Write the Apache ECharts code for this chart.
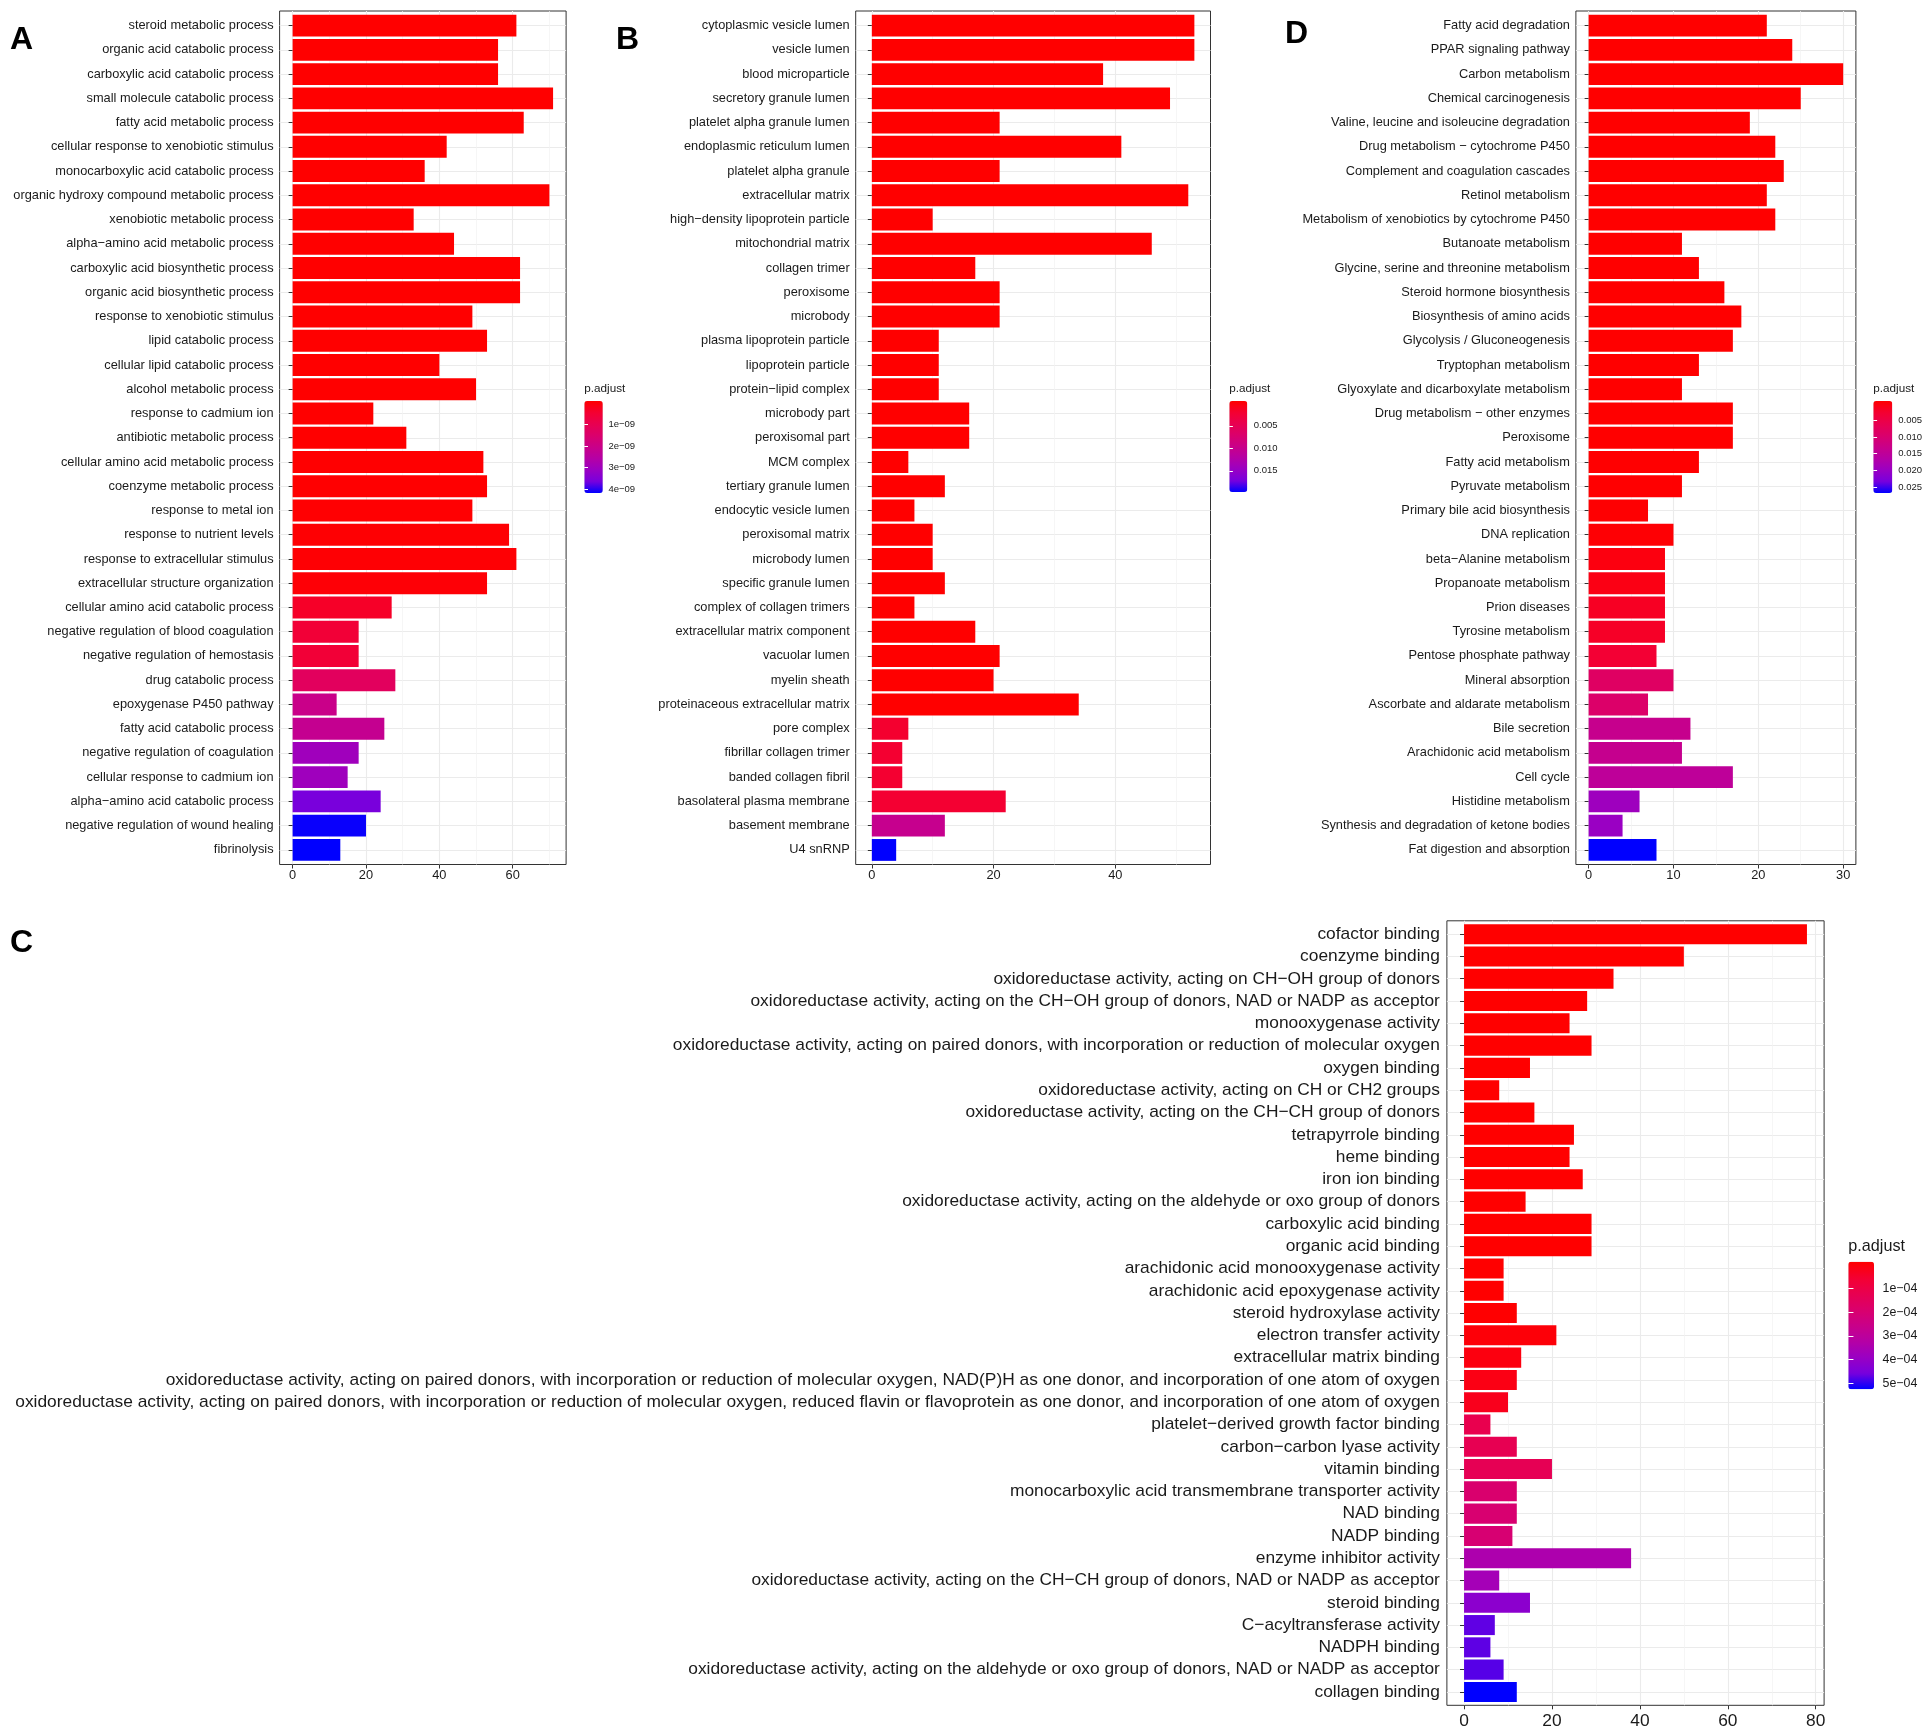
<!DOCTYPE html>
<html><head><meta charset="utf-8">
<script src="https://cdn.jsdelivr.net/npm/echarts@6/dist/echarts.min.js"></script>
<style>html,body{margin:0;padding:0;background:#fff}#c{width:1928px;height:1736px}</style>
</head><body><div id="c"></div>
<script>
// ---------------- DATA ----------------
const aCategories = ["steroid metabolic process","organic acid catabolic process","carboxylic acid catabolic process","small molecule catabolic process","fatty acid metabolic process","cellular response to xenobiotic stimulus","monocarboxylic acid catabolic process","organic hydroxy compound metabolic process","xenobiotic metabolic process","alpha−amino acid metabolic process","carboxylic acid biosynthetic process","organic acid biosynthetic process","response to xenobiotic stimulus","lipid catabolic process","cellular lipid catabolic process","alcohol metabolic process","response to cadmium ion","antibiotic metabolic process","cellular amino acid metabolic process","coenzyme metabolic process","response to metal ion","response to nutrient levels","response to extracellular stimulus","extracellular structure organization","cellular amino acid catabolic process","negative regulation of blood coagulation","negative regulation of hemostasis","drug catabolic process","epoxygenase P450 pathway","fatty acid catabolic process","negative regulation of coagulation","cellular response to cadmium ion","alpha−amino acid catabolic process","negative regulation of wound healing","fibrinolysis"];
const aCounts = [61,56,56,71,63,42,36,70,33,44,62,62,49,53,40,50,22,31,52,53,49,59,61,53,27,18,18,28,12,25,18,15,24,20,13];
const aPadj = [1.3e-22,4.1e-21,4.1e-21,2.8e-20,6.5e-19,3.2e-18,1.5e-17,2.9e-17,5.6e-16,1.1e-15,3.7e-15,3.7e-15,8.2e-15,2.4e-14,9.1e-14,2.6e-13,7.4e-13,1.9e-12,5.3e-12,8.8e-12,1.6e-11,2.9e-11,4.4e-11,6.1e-11,4.2e-10,6.1e-10,6.1e-10,1.25e-9,2.04e-9,2.16e-9,2.94e-9,2.96e-9,3.55e-9,4.04e-9,4.08e-9];
const aXTicks = [0,20,40,60];
const aLegendTicks = [1e-9,2e-9,3e-9,4e-9];
const aLegendLabels = ["1e−09","2e−09","3e−09","4e−09"];

const bCategories = ["cytoplasmic vesicle lumen","vesicle lumen","blood microparticle","secretory granule lumen","platelet alpha granule lumen","endoplasmic reticulum lumen","platelet alpha granule","extracellular matrix","high−density lipoprotein particle","mitochondrial matrix","collagen trimer","peroxisome","microbody","plasma lipoprotein particle","lipoprotein particle","protein−lipid complex","microbody part","peroxisomal part","MCM complex","tertiary granule lumen","endocytic vesicle lumen","peroxisomal matrix","microbody lumen","specific granule lumen","complex of collagen trimers","extracellular matrix component","vacuolar lumen","myelin sheath","proteinaceous extracellular matrix","pore complex","fibrillar collagen trimer","banded collagen fibril","basolateral plasma membrane","basement membrane","U4 snRNP"];
const bCounts = [53,53,38,49,21,41,21,52,10,46,17,21,21,11,11,11,16,16,6,12,7,10,10,12,7,17,21,20,34,6,5,5,22,12,4];
const bPadj = [2.1e-22,2.1e-22,5.8e-19,1.4e-18,3.3e-16,6.0e-16,4.1e-15,7.7e-15,2.2e-13,5.1e-13,1.3e-12,2.7e-12,2.7e-12,6.4e-12,6.4e-12,9.9e-12,2.3e-11,2.3e-11,5.2e-11,8.7e-11,1.6e-10,3.1e-10,3.1e-10,5.5e-10,9.8e-10,2.2e-9,4.0e-9,6.3e-9,1.1e-8,0.0023,0.0024,0.0024,0.0025,0.0100,0.0192];
const bXTicks = [0,20,40];
const bLegendTicks = [0.005,0.010,0.015];
const bLegendLabels = ["0.005","0.010","0.015"];

const dCategories = ["Fatty acid degradation","PPAR signaling pathway","Carbon metabolism","Chemical carcinogenesis","Valine, leucine and isoleucine degradation","Drug metabolism − cytochrome P450","Complement and coagulation cascades","Retinol metabolism","Metabolism of xenobiotics by cytochrome P450","Butanoate metabolism","Glycine, serine and threonine metabolism","Steroid hormone biosynthesis","Biosynthesis of amino acids","Glycolysis / Gluconeogenesis","Tryptophan metabolism","Glyoxylate and dicarboxylate metabolism","Drug metabolism − other enzymes","Peroxisome","Fatty acid metabolism","Pyruvate metabolism","Primary bile acid biosynthesis","DNA replication","beta−Alanine metabolism","Propanoate metabolism","Prion diseases","Tyrosine metabolism","Pentose phosphate pathway","Mineral absorption","Ascorbate and aldarate metabolism","Bile secretion","Arachidonic acid metabolism","Cell cycle","Histidine metabolism","Synthesis and degradation of ketone bodies","Fat digestion and absorption"];
const dCounts = [21,24,30,25,19,22,23,21,22,11,13,16,18,17,13,11,17,17,13,11,7,10,9,9,9,9,8,10,7,12,11,17,6,4,8];
const dPadj = [3.2e-12,5.5e-11,9.0e-11,1.2e-9,4.3e-9,8.1e-9,1.5e-8,3.3e-8,6.0e-8,2.4e-7,5.2e-7,9.9e-7,1.8e-6,3.5e-6,6.1e-6,1.2e-5,2.0e-5,2.6e-5,4.8e-5,9.5e-5,1.5e-4,2.4e-4,0.0010,0.0013,0.0023,0.0026,0.0036,0.0086,0.0094,0.0135,0.0136,0.0148,0.0190,0.0195,0.0260];
const dXTicks = [0,10,20,30];
const dLegendTicks = [0.005,0.010,0.015,0.020,0.025];
const dLegendLabels = ["0.005","0.010","0.015","0.020","0.025"];

const cCategories = ["cofactor binding","coenzyme binding","oxidoreductase activity, acting on CH−OH group of donors","oxidoreductase activity, acting on the CH−OH group of donors, NAD or NADP as acceptor","monooxygenase activity","oxidoreductase activity, acting on paired donors, with incorporation or reduction of molecular oxygen","oxygen binding","oxidoreductase activity, acting on CH or CH2 groups","oxidoreductase activity, acting on the CH−CH group of donors","tetrapyrrole binding","heme binding","iron ion binding","oxidoreductase activity, acting on the aldehyde or oxo group of donors","carboxylic acid binding","organic acid binding","arachidonic acid monooxygenase activity","arachidonic acid epoxygenase activity","steroid hydroxylase activity","electron transfer activity","extracellular matrix binding","oxidoreductase activity, acting on paired donors, with incorporation or reduction of molecular oxygen, NAD(P)H as one donor, and incorporation of one atom of oxygen","oxidoreductase activity, acting on paired donors, with incorporation or reduction of molecular oxygen, reduced flavin or flavoprotein as one donor, and incorporation of one atom of oxygen","platelet−derived growth factor binding","carbon−carbon lyase activity","vitamin binding","monocarboxylic acid transmembrane transporter activity","NAD binding","NADP binding","enzyme inhibitor activity","oxidoreductase activity, acting on the CH−CH group of donors, NAD or NADP as acceptor","steroid binding","C−acyltransferase activity","NADPH binding","oxidoreductase activity, acting on the aldehyde or oxo group of donors, NAD or NADP as acceptor","collagen binding"];
const cCounts = [78,50,34,28,24,29,15,8,16,25,24,27,14,29,29,9,9,12,21,13,12,10,6,12,20,12,12,11,38,8,15,7,6,9,12];
const cPadj = [1.1e-28,3.5e-17,2.2e-14,1.9e-11,3.6e-11,4.4e-11,2.8e-9,6.3e-9,1.2e-8,2.6e-8,4.1e-8,6.8e-8,1.5e-7,2.3e-7,2.3e-7,6.0e-7,6.0e-7,1.4e-6,1.0e-5,2.0e-5,2.6e-5,3.6e-5,1.23e-4,1.33e-4,1.38e-4,1.95e-4,2.0e-4,2.05e-4,3.38e-4,3.58e-4,4.10e-4,4.61e-4,4.62e-4,4.66e-4,5.12e-4];
const cXTicks = [0,20,40,60,80];
const cLegendTicks = [1e-4,2e-4,3e-4,4e-4,5e-4];
const cLegendLabels = ["1e−04","2e−04","3e−04","4e−04","5e−04"];

// ---------------- STYLE / LAYOUT ----------------
const FONT = '"Liberation Sans", Arial, Helvetica, sans-serif';
const TXT = '#1a1a1a';
// red -> blue gradient (CIELAB-interpolated stops, as ggplot's gradient)
const STOPS = ['#FF0000','#F40031','#E80050','#DA006C','#C90089','#B500A5','#9A00C3','#7800DD','#0000FF'];

const panels = [
  {letter:'A', letterPos:[10,24], cats:aCategories, counts:aCounts, padj:aPadj, xTicks:aXTicks, lt:aLegendTicks, ll:aLegendLabels,
   frame:{left:279.6, top:11, width:286.5, height:853.5}, fs:12.8, yMargin:6, xMargin:4, yPadTop:2.4,
   leg:{x:584.3, y:401, w:18.5, h:92, titleTop:382.5, titleFs:11.7, labelFs:9.5, gap:5.6}},
  {letter:'B', letterPos:[616,24.5], cats:bCategories, counts:bCounts, padj:bPadj, xTicks:bXTicks, lt:bLegendTicks, ll:bLegendLabels,
   frame:{left:855.7, top:11, width:354.8, height:853.5}, fs:12.8, yMargin:6, xMargin:4, yPadTop:2.4,
   leg:{x:1229.3, y:401, w:18, h:91, titleTop:382.5, titleFs:11.7, labelFs:9.5, gap:6.5}},
  {letter:'D', letterPos:[1285,18.5], cats:dCategories, counts:dCounts, padj:dPadj, xTicks:dXTicks, lt:dLegendTicks, ll:dLegendLabels,
   frame:{left:1575.9, top:11, width:280.0, height:853.5}, fs:12.8, yMargin:6, xMargin:4, yPadTop:2.4,
   leg:{x:1873.3, y:401, w:19, h:92, titleTop:382.5, titleFs:11.7, labelFs:9.5, gap:6}},
  {letter:'C', letterPos:[10,927.5], cats:cCategories, counts:cCounts, padj:cPadj, xTicks:cXTicks, lt:cLegendTicks, ll:cLegendLabels,
   frame:{left:1446.9, top:920.8, width:377.2, height:784.5}, fs:17.35, yMargin:7, xMargin:7, yPadTop:5,
   leg:{x:1848.3, y:1261.7, w:25.7, h:127.6, titleTop:1239, titleFs:16.2, labelFs:12.4, gap:8.5}}
];

const option = {
  backgroundColor:'#fff', animation:false,
  textStyle:{fontFamily:FONT},
  title:[], grid:[], xAxis:[], yAxis:[], series:[], visualMap:[]
};

panels.forEach(p => {
  const n = p.cats.length, f = p.frame, L = p.leg;
  const unit = f.height / (n + 0.2);
  const pad = unit * 0.1;
  const xMaxData = Math.max(...p.counts);
  const xmin = -0.05 * xMaxData, xmax = 1.05 * xMaxData;
  const step = p.xTicks[1] - p.xTicks[0];
  const minor = p.xTicks.map(t => t + step / 2).filter(v => v < xmax);
  const vmin = Math.min(...p.padj), vmax = Math.max(...p.padj);

  const gMain = option.grid.length;
  option.grid.push({left:f.left, top:f.top + pad, width:f.width, height:unit * n, show:false});
  option.grid.push({left:f.left, top:f.top, width:f.width, height:f.height, show:true, borderColor:'#333', borderWidth:1, backgroundColor:'rgba(0,0,0,0)'});
  option.grid.push({left:L.x, top:L.y + 0.025 * L.h, width:L.w, height:0.95 * L.h, show:false});
  const gFrame = gMain + 1, gLeg = gMain + 2;

  // main axes
  const xMain = option.xAxis.length;
  option.xAxis.push({gridIndex:gMain, type:'value', min:xmin, max:xmax, position:'bottom', offset:pad,
    axisLine:{show:false},
    axisTick:{show:true, length:4, customValues:p.xTicks, lineStyle:{color:'#333', width:1}},
    axisLabel:{customValues:p.xTicks, fontSize:p.fs, color:TXT, margin:p.xMargin, fontFamily:FONT},
    splitLine:{show:false}});
  const yMain = option.yAxis.length;
  option.yAxis.push({gridIndex:gMain, type:'category', data:p.cats, inverse:true,
    axisLine:{show:false},
    axisTick:{show:true, alignWithLabel:true, interval:0, length:4, lineStyle:{color:'#333', width:1}},
    axisLabel:{interval:0, fontSize:p.fs, color:TXT, margin:p.yMargin, fontFamily:FONT, padding:[p.yPadTop,0,0,0]},
    splitLine:{show:false}});

  // frame grid: panel grid lines
  option.xAxis.push({gridIndex:gFrame, type:'value', min:xmin, max:xmax, position:'bottom',
    axisLine:{show:false}, axisTick:{show:false, customValues:p.xTicks}, axisLabel:{show:false},
    splitLine:{show:true, lineStyle:{color:'#EBEBEB', width:1.1}}});
  option.xAxis.push({gridIndex:gFrame, type:'value', min:xmin, max:xmax, position:'top',
    axisLine:{show:false}, axisTick:{show:false, customValues:minor}, axisLabel:{show:false},
    splitLine:{show:true, lineStyle:{color:'#F2F2F2', width:0.7}}});
  option.yAxis.push({gridIndex:gFrame, type:'value', min:-0.6, max:n - 0.4, inverse:true,
    axisLine:{show:false}, axisTick:{show:false, customValues:p.cats.map((_, i) => i)}, axisLabel:{show:false},
    splitLine:{show:true, lineStyle:{color:'#EBEBEB', width:1.1}}});

  // legend axes (tick labels of the colour bar)
  const fmt = v => {
    let best = 0, bd = Infinity;
    p.lt.forEach((t, i) => { const d = Math.abs(t - v); if (d < bd) { bd = d; best = i; } });
    return p.ll[best];
  };
  option.xAxis.push({gridIndex:gLeg, type:'value', show:false});
  option.yAxis.push({gridIndex:gLeg, type:'value', min:vmin, max:vmax, inverse:true, position:'right', z:10,
    axisLine:{show:false},
    axisTick:{show:true, inside:true, length:L.w / 5, customValues:p.lt, lineStyle:{color:'#fff', width:1}},
    axisLabel:{show:true, customValues:p.lt, formatter:fmt, fontSize:L.labelFs, color:TXT, margin:L.gap, fontFamily:FONT},
    splitLine:{show:false}});
  option.yAxis.push({gridIndex:gLeg, type:'value', min:vmin, max:vmax, inverse:true, position:'left', z:10,
    axisLine:{show:false},
    axisTick:{show:true, inside:true, length:L.w / 5, customValues:p.lt, lineStyle:{color:'#fff', width:1}},
    axisLabel:{show:false}, splitLine:{show:false}});

  // bars
  option.series.push({type:'bar', xAxisIndex:xMain, yAxisIndex:yMain, silent:true, barWidth:'90%',
    data:p.cats.map((c, i) => [p.counts[i], i, p.padj[i]]), encode:{x:0, y:1}});
  option.visualMap.push({type:'continuous', seriesIndex:option.series.length - 1, dimension:2,
    min:vmin, max:vmax, inverse:true, calculable:false, hoverLink:false, orient:'vertical',
    left:L.x, top:L.y, itemWidth:L.w, itemHeight:L.h, padding:0, inRange:{color:STOPS}});

  // texts
  option.title.push({text:p.letter, left:p.letterPos[0], top:p.letterPos[1], padding:0,
    textStyle:{fontSize:32, fontWeight:'bold', color:'#000', lineHeight:32, fontFamily:FONT}});
  option.title.push({text:'p.adjust', left:L.x, top:L.titleTop, padding:0,
    textStyle:{fontSize:L.titleFs, fontWeight:'normal', color:TXT, lineHeight:Math.round(L.titleFs), fontFamily:FONT}});
});

const chart = echarts.init(document.getElementById('c'), null, {renderer:'canvas'});
chart.setOption(option);
</script>
</body></html>
